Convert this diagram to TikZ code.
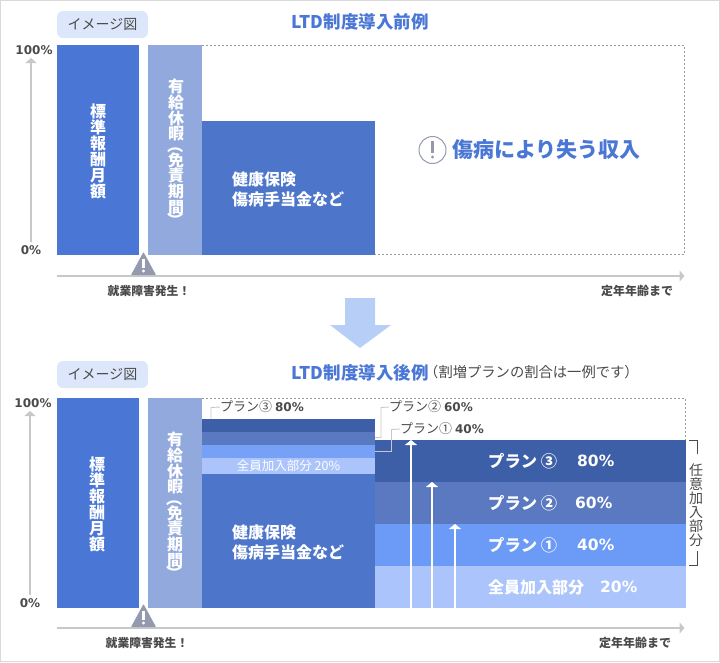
\documentclass[tikz,border=0pt]{standalone}
\usepackage{fontspec}
\setmainfont{Noto Sans CJK JP}
\newfontfamily\numfont{DejaVu Sans}
\usepackage{xcolor}
\usetikzlibrary{
	arrows.meta,
	calc,
	positioning
}
\definecolor{BarBlue}{HTML}{4A77D6}
\definecolor{BarPale}{HTML}{91A9DC}
\definecolor{BarMid}{HTML}{4D76CB}
\definecolor{PlanC}{HTML}{3C5FA8}
\definecolor{PlanB}{HTML}{5A79C0}
\definecolor{PlanA}{HTML}{6B9AF7}
\definecolor{PlanAlt}{HTML}{76A1F6}
\definecolor{PlanBase}{HTML}{ABC4FB}
\definecolor{TagBlue}{HTML}{DDE7FB}
\definecolor{DownBlue}{HTML}{B7CFF7}
\definecolor{AxisGray}{HTML}{C8C8C8}
\definecolor{WarnGray}{HTML}{9499AD}
\definecolor{TextGray}{HTML}{4A4A4A}
\tikzset{
	lab/.style={inner sep=0pt},
	sz/.style={font=\fontsize{#1}{#1}\selectfont, text height=#1*.88pt, text depth=#1*.12pt},
	bsz/.style={font=\bfseries\fontsize{#1}{#1}\selectfont, text height=#1*.88pt, text depth=#1*.12pt},
	nsz/.style={font=\numfont\bfseries\fontsize{#1}{#1}\selectfont, text height=#1*.73pt, text depth=0pt},
	graytxt/.style={lab, text=TextGray},
	whitetxt/.style={lab, text=white},
	axisline/.style={draw=AxisGray, line width=2pt, -{Triangle[width=11pt, length=5pt]}},
	leader/.style={draw=AxisGray, line width=.9pt},
	plusarrow/.style={draw=white, line width=2pt, -{Triangle[width=12pt, length=5pt]}},
	dotline/.style={draw=gray!80, line width=.7pt, dash pattern=on 2pt off 2pt}
}
\begin{document}
\begin{tikzpicture}[x=1pt, y=-1pt]
	\useasboundingbox (0,0) rectangle (720,662);
	\draw[draw=black!15, line width=1pt] (.5,.5) rectangle (719.5,661.5);

	% dotted outlines
	\draw[dotline] (202,45.5) -- (684.5,45.5) -- (684.5,254.5) -- (375,254.5);
	\draw[dotline] (202,398.5) -- (685.5,398.5) -- (685.5,440);

	% parts shared by both panels
	\foreach \p/\ty/\by/\ay/\ax/\ly/\lx/\hy in {a/11/45/276/31/50/0/252, b/361/398/628/30/403/-2/604}{
		\node[lab, sz=14, fill=TagBlue, text=TextGray, rounded corners=6pt, minimum width=91pt, minimum height=27pt] (tag\p) at (102.5,\ty+13.5) {イメージ図};
		\fill[BarBlue] (57,\by) rectangle (139,\by+210);
		\fill[BarPale] (148,\by) rectangle (202,\by+210);
		\fill[BarMid] (202,\by+76) rectangle (375,\by+210);
		\node[graytxt, nsz=12] (top\p) at (\ax+3,\ly) {100\%};
		\node[graytxt, nsz=12] (zero\p) at (\ax,\ly+200) {0\%};
		\coordinate (ylow\p) at (\ax,\ly+192);
		\coordinate (yhigh\p) at (\ax,\ly+8);
		\draw[axisline] (ylow\p) -- (yhigh\p);
		\coordinate (xlow\p) at (57,\ay);
		\coordinate (xhigh\p) at (684.5,\ay);
		\draw[axisline] (xlow\p) -- (xhigh\p);
		\fill[WarnGray, rounded corners=.6pt] (143.5,\hy) -- (156,\hy+23) -- (131,\hy+23) -- cycle;
		\draw[white, line width=2.6pt] (143.5,\hy+7) -- (143.5,\hy+15.5);
		\fill[white] (143.5,\hy+19) circle (1.7pt);
		\node[graytxt, bsz=11.8] (start\p) at (149+\lx,\ay+15) {就業障害発生！};
		\node[graytxt, bsz=12] (end\p) at (637+\lx,\ay+15) {定年年齢まで};
		\node[inner sep=0pt, text=white, font=\bfseries\fontsize{16}{16}\selectfont, align=left, anchor=west] (sick\p) at (232,\by+144) {健康保険\\[4pt]傷病手当金など};
		\foreach \c/\yy in {標/66,準/82,報/98,酬/114,月/130,額/146}
			\node[whitetxt, bsz=16] (std\p\yy) at (98+\lx/2,\by+\yy) {\c};
		\foreach \c/\yy/\rr in {有/41/0,給/57/0,休/73/0,暇/88/0,（/100/-90,免/115/0,責/130/0,期/146/0,間/162/0,）/175/-90}
			\node[whitetxt, bsz=16, rotate=\rr] (leave\p\yy) at (176+\lx/2,\by+\yy) {\c};
	}

	% before
	\node[lab, bsz=17.5, text=BarBlue] (titlea) at (360,22) {LTD制度導入前例};
	\draw[WarnGray, line width=1pt] (432.5,150) circle (13.5pt);
	\draw[WarnGray, line width=2.6pt] (432.5,140.5) -- (432.5,153);
	\fill[WarnGray] (432.5,157) circle (1.6pt);
	\node[lab, bsz=21, text=BarBlue, anchor=west] (lost) at (452,150) {傷病により失う収入};

	% change arrow
	\fill[DownBlue] (345,298) -- (375,298) -- (375,325) -- (391,325) -- (360,348) -- (330,325) -- (345,325) -- cycle;

	% after
	\node[lab, bsz=17.5, text=BarBlue] (titleb) at (360,373) {LTD制度導入後例};
	\node[graytxt, sz=14.3, anchor=west] (note) at (424,372.5) {（割増プランの割合は一例です）};

	\foreach \col/\ya/\yb in {PlanC/419/432, PlanB/432/445, PlanAlt/445/458, PlanBase/458/474}
		\fill[\col] (202,\ya) rectangle (375,\yb);
	\node[whitetxt, sz=12.5] (smallbase) at (288.5,466) {全員加入部分 20\%};

	\foreach \col/\ya/\yb in {PlanC/440/482, PlanB/482/524, PlanA/524/566, PlanBase/566/608}
		\fill[\col] (375,\ya) rectangle (686,\yb);

	\foreach \n/\xx/\yy in {c/411/440, b/432/482, a/455/524}{
		\coordinate (up\n) at (\xx,608);
		\coordinate (tip\n) at (\xx,\yy);
		\draw[plusarrow] (up\n) -- (tip\n);
	}

	\foreach \n/\t/\yy/\vx/\v in {c/プラン ③/461/577/80, b/プラン ②/503/575/60, a/プラン ①/545/577/40}{
		\node[whitetxt, bsz=16.3, anchor=west] (plan\n) at (488,\yy) {\t};
		\node[text=white, inner sep=0pt, nsz=15.5, anchor=west] (val\n) at (\vx,\yy) {\v\%};
	}
	\node[whitetxt, bsz=16, anchor=west] (planbase) at (488,587) {全員加入部分};
	\node[text=white, inner sep=0pt, nsz=15.5, anchor=west] (valbase) at (600,587) {20\%};

	% optional part bracket
	\coordinate (brA) at (689,440.5);
	\coordinate (brB) at (697,440.5);
	\coordinate (brC) at (697,454);
	\coordinate (brD) at (697,551);
	\coordinate (brE) at (697,565);
	\coordinate (brF) at (689,565);
	\draw[TextGray, line width=.8pt] (brA) -- (brB) -- (brC);
	\draw[TextGray, line width=.8pt] (brD) -- (brE) -- (brF);
	\foreach \c/\yy in {任/470,意/484,加/498,入/512,部/526,分/540}
		\node[graytxt, sz=14] (opt\yy) at (696,\yy) {\c};

	% plan labels
	\foreach \n/\t/\v/\xx/\yy in {c/プラン③/80/220/407, b/プラン②/60/389/407, a/プラン①/40/400/429}
		\node[graytxt, sz=13, anchor=west] (lab\n) at (\xx,\yy) {\t\ {\numfont\bfseries\fontsize{12}{12}\selectfont\v\%}};
	\coordinate (barc) at (211,419);
	\coordinate (bend) at (211,407.5);
	\draw[leader] (barc) -- (bend) -- (labc.west);
	\coordinate (bara) at (375,437.5);
	\coordinate (bena) at (381,437.5);
	\coordinate (benb) at (381,407.5);
	\draw[leader] (bara) -- (bena) -- (benb) -- (labb.west);
	\coordinate (barb) at (375,451.5);
	\coordinate (bene) at (391.5,451.5);
	\coordinate (benf) at (391.5,429.5);
	\draw[leader] (barb) -- (bene) -- (benf) -- (laba.west);
\end{tikzpicture}
\end{document}
